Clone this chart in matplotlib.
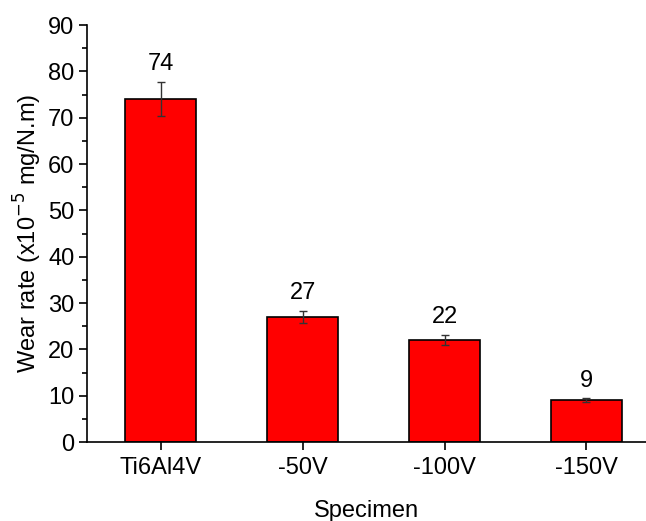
import matplotlib
matplotlib.use("Agg")
import matplotlib.pyplot as plt
from matplotlib.ticker import MultipleLocator

categories = ["Ti6Al4V", "-50V", "-100V", "-150V"]
values = [74, 27, 22, 9]
errors = [3.7, 1.3, 1.1, 0.4]
labels = ["74", "27", "22", "9"]

plt.rcParams['font.family'] = ['Liberation Sans', 'DejaVu Sans']
fig = plt.figure(figsize=(6.46, 5.21), dpi=100)
ax = fig.add_axes([0.1347, 0.1516, 0.8653, 0.8004])
x = list(range(len(categories)))
ax.bar(x, values, width=0.5, color='#ff0000', edgecolor='black', linewidth=1.2, zorder=2)
ax.errorbar(x, values, yerr=errors, fmt='none', ecolor='#333333', elinewidth=1, capsize=3, capthick=1, zorder=3)
for xi, v, e, t in zip(x, values, errors, labels):
    ax.text(xi, v + e + 1.5, t, ha='center', va='bottom', fontsize=17)

ax.set_xlim(-0.52, 3.42)
ax.set_ylim(0, 90)
ax.yaxis.set_major_locator(MultipleLocator(10))
ax.yaxis.set_minor_locator(MultipleLocator(5))
ax.set_xticks(x)
ax.set_xticklabels(categories)
ax.tick_params(axis='both', direction='out', labelsize=17, width=1.2)
ax.tick_params(axis='y', which='major', length=6, pad=3)
ax.tick_params(axis='y', which='minor', length=3.5, width=1.2)
ax.tick_params(axis='x', length=6, pad=5)
for s in ['top', 'right']:
    ax.spines[s].set_visible(False)
for s in ['left', 'bottom']:
    ax.spines[s].set_linewidth(1.2)
ax.set_ylabel("Wear rate (x10$^{-5}$ mg/N.m)", fontsize=17, labelpad=3)
ax.set_xlabel("Specimen", fontsize=17, labelpad=15)
fig.savefig("out.png", dpi=100)
